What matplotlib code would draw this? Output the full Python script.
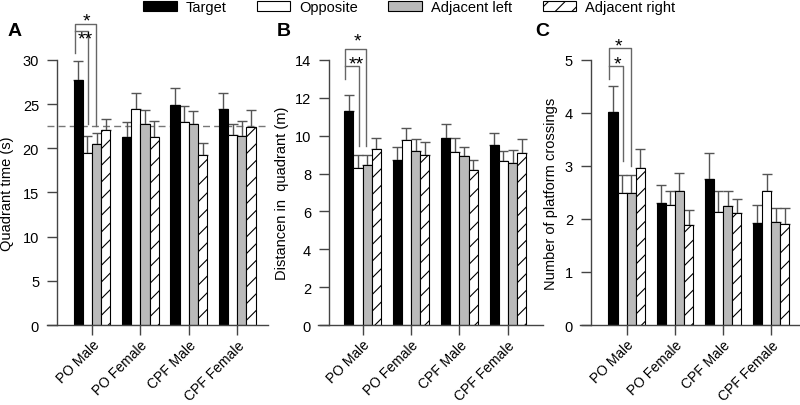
import numpy as np
import matplotlib.pyplot as plt
from matplotlib.patches import Patch

plt.rcParams['font.family'] = ['Liberation Sans', 'DejaVu Sans']
plt.rcParams['hatch.linewidth'] = 0.8

groups = ['PO Male', 'PO Female', 'CPF Male', 'CPF Female']
series_names = ['Target', 'Opposite', 'Adjacent left', 'Adjacent right']

# A - quadrant time (s)
time_target = [27.7, 21.3, 24.85, 24.4]
time_target_err = [2.2, 1.7, 1.95, 1.8]
time_opposite = [19.5, 24.5, 23.0, 21.5]
time_opposite_err = [1.9, 1.7, 1.8, 1.2]
time_left = [20.5, 22.8, 22.8, 21.4]
time_left_err = [1.25, 1.5, 1.45, 1.7]
time_right = [22.1, 21.3, 19.2, 22.4]
time_right_err = [1.2, 1.8, 1.4, 1.9]
chance_time = 22.5

# B - distance in quadrant (m)
dist_target = [11.28, 8.72, 9.85, 9.48]
dist_target_err = [0.87, 0.66, 0.75, 0.65]
dist_opposite = [8.3, 9.78, 9.15, 8.65]
dist_opposite_err = [0.68, 0.65, 0.74, 0.55]
dist_left = [8.45, 9.2, 8.9, 8.53]
dist_left_err = [0.52, 0.62, 0.51, 0.7]
dist_right = [9.32, 8.97, 8.16, 9.06]
dist_right_err = [0.53, 0.67, 0.54, 0.74]

# C - number of platform crossings
cross_target = [4.01, 2.30, 2.75, 1.92]
cross_target_err = [0.49, 0.34, 0.5, 0.35]
cross_opposite = [2.49, 2.26, 2.14, 2.53]
cross_opposite_err = [0.34, 0.26, 0.38, 0.31]
cross_left = [2.49, 2.52, 2.24, 1.95]
cross_left_err = [0.33, 0.34, 0.29, 0.26]
cross_right = [2.97, 1.89, 2.11, 1.91]
cross_right_err = [0.35, 0.27, 0.27, 0.29]

# significance brackets: [left bottom, inner top, outer top, inner right bottom, outer right bottom]
brackets_a = [30.8, 33.26, 34.1, 22.8, 22.5]
brackets_b = [12.98, 13.68, 14.6, 9.46, 9.46]
brackets_c = [4.64, 4.89, 5.22, 3.1, 3.0]
stars_a = ['*', '**']
stars_b = ['*', '**']
stars_c = ['*', '*']

fills = ['black', 'white', '#bababa', 'white']
hatches = [None, None, None, '//']
width = 0.19
offsets = [-1.5 * width, -0.5 * width, 0.5 * width, 1.5 * width]
line_col = '#444444'


def draw_panel(ax, means, errs, ylim, yticks, ylabel, xlim, spine_x, label_x):
    x = np.arange(len(groups))
    for i in range(4):
        xs = x + offsets[i]
        ax.errorbar(xs, means[i], yerr=[np.zeros(4), errs[i]], fmt='none',
                    ecolor='#555555', elinewidth=1, capsize=3.3, capthick=1,
                    zorder=1, clip_on=False)
        ax.bar(xs, means[i], width, color=fills[i], edgecolor='black',
               linewidth=0.8, hatch=hatches[i], zorder=2)
    ax.set_xlim(*xlim)
    ax.set_ylim(*ylim)
    ax.set_yticks(yticks)
    ax.set_xticks(x)
    ax.set_xticklabels(groups, rotation=45, ha='right', rotation_mode='anchor')
    ax.spines['top'].set_visible(False)
    ax.spines['right'].set_visible(False)
    ax.spines['left'].set_position(('data', spine_x))
    for s in ['left', 'bottom']:
        ax.spines[s].set_color(line_col)
        ax.spines[s].set_linewidth(1)
    ax.tick_params(axis='both', direction='out', length=7, width=1,
                   color=line_col)
    ax.tick_params(axis='y', labelsize=10.5, pad=6)
    ax.tick_params(axis='x', labelsize=10, pad=2)
    ax.set_ylabel(ylabel, fontsize=10.5)
    ax.yaxis.set_label_coords(label_x, 0.5)


def draw_brackets(ax, b, stars, star_x, star_y):
    xl, xi, xo = -0.36, -0.08, 0.08
    ax.plot([xl, xl, xo, xo], [b[0], b[2], b[2], b[4]], color='#666666',
            lw=1, clip_on=False, zorder=3)
    ax.plot([xl, xi, xi], [b[1], b[1], b[3]], color='#666666',
            lw=1, clip_on=False, zorder=3)
    for s, sx, sy in zip(stars, star_x, star_y):
        ax.text(sx, sy, s, ha='center', va='center', fontsize=14, clip_on=False)


fig = plt.figure(figsize=(8, 4.06), dpi=100)
ax_a = fig.add_axes([0.05875, 0.197, 0.276, 0.653])
ax_b = fig.add_axes([0.3975, 0.197, 0.281, 0.653])
ax_c = fig.add_axes([0.725, 0.197, 0.275, 0.653])

draw_panel(ax_a,
           [time_target, time_opposite, time_left, time_right],
           [time_target_err, time_opposite_err, time_left_err, time_right_err],
           (0, 30), [0, 5, 10, 15, 20, 25, 30], 'Quadrant time (s)',
           (-0.93, 3.63), -0.72, -0.15)
ax_a.axhline(chance_time, color='#777777', lw=1, ls=(0, (5, 3)), zorder=0)
draw_brackets(ax_a, brackets_a, stars_a, [-0.12, -0.14], [34.4, 32.4])

draw_panel(ax_b,
           [dist_target, dist_opposite, dist_left, dist_right],
           [dist_target_err, dist_opposite_err, dist_left_err, dist_right_err],
           (0, 14), [0, 2, 4, 6, 8, 10, 12, 14], 'Distancen in  quadrant (m)',
           (-0.92, 3.72), -0.69, -0.13)
draw_brackets(ax_b, brackets_b, stars_b, [-0.1, -0.14], [15.0, 13.77])

draw_panel(ax_c,
           [cross_target, cross_opposite, cross_left, cross_right],
           [cross_target_err, cross_opposite_err, cross_left_err, cross_right_err],
           (0, 5), [0, 1, 2, 3, 4, 5], 'Number of platform crossings',
           (-0.97, 3.6), -0.74, -0.1)
draw_brackets(ax_c, brackets_c, stars_c, [-0.18, -0.2], [5.27, 4.92])

for letter, px in zip(['A', 'B', 'C'], [8, 277, 535]):
    fig.text(px / 800, 1 - 32 / 406, letter, ha='left', va='center',
             fontsize=14, fontweight='bold')

handles = [Patch(facecolor=fills[i], edgecolor='black', linewidth=0.8,
                 hatch=hatches[i], label=series_names[i]) for i in range(4)]
fig.legend(handles=handles, loc='upper left', bbox_to_anchor=(143 / 800, 0.997),
           ncol=4, frameon=False, fontsize=10.5, handlelength=2.3,
           handleheight=0.7, handletextpad=0.6, columnspacing=2.1,
           borderpad=0, borderaxespad=0)

fig.savefig('out.png', dpi=100)
